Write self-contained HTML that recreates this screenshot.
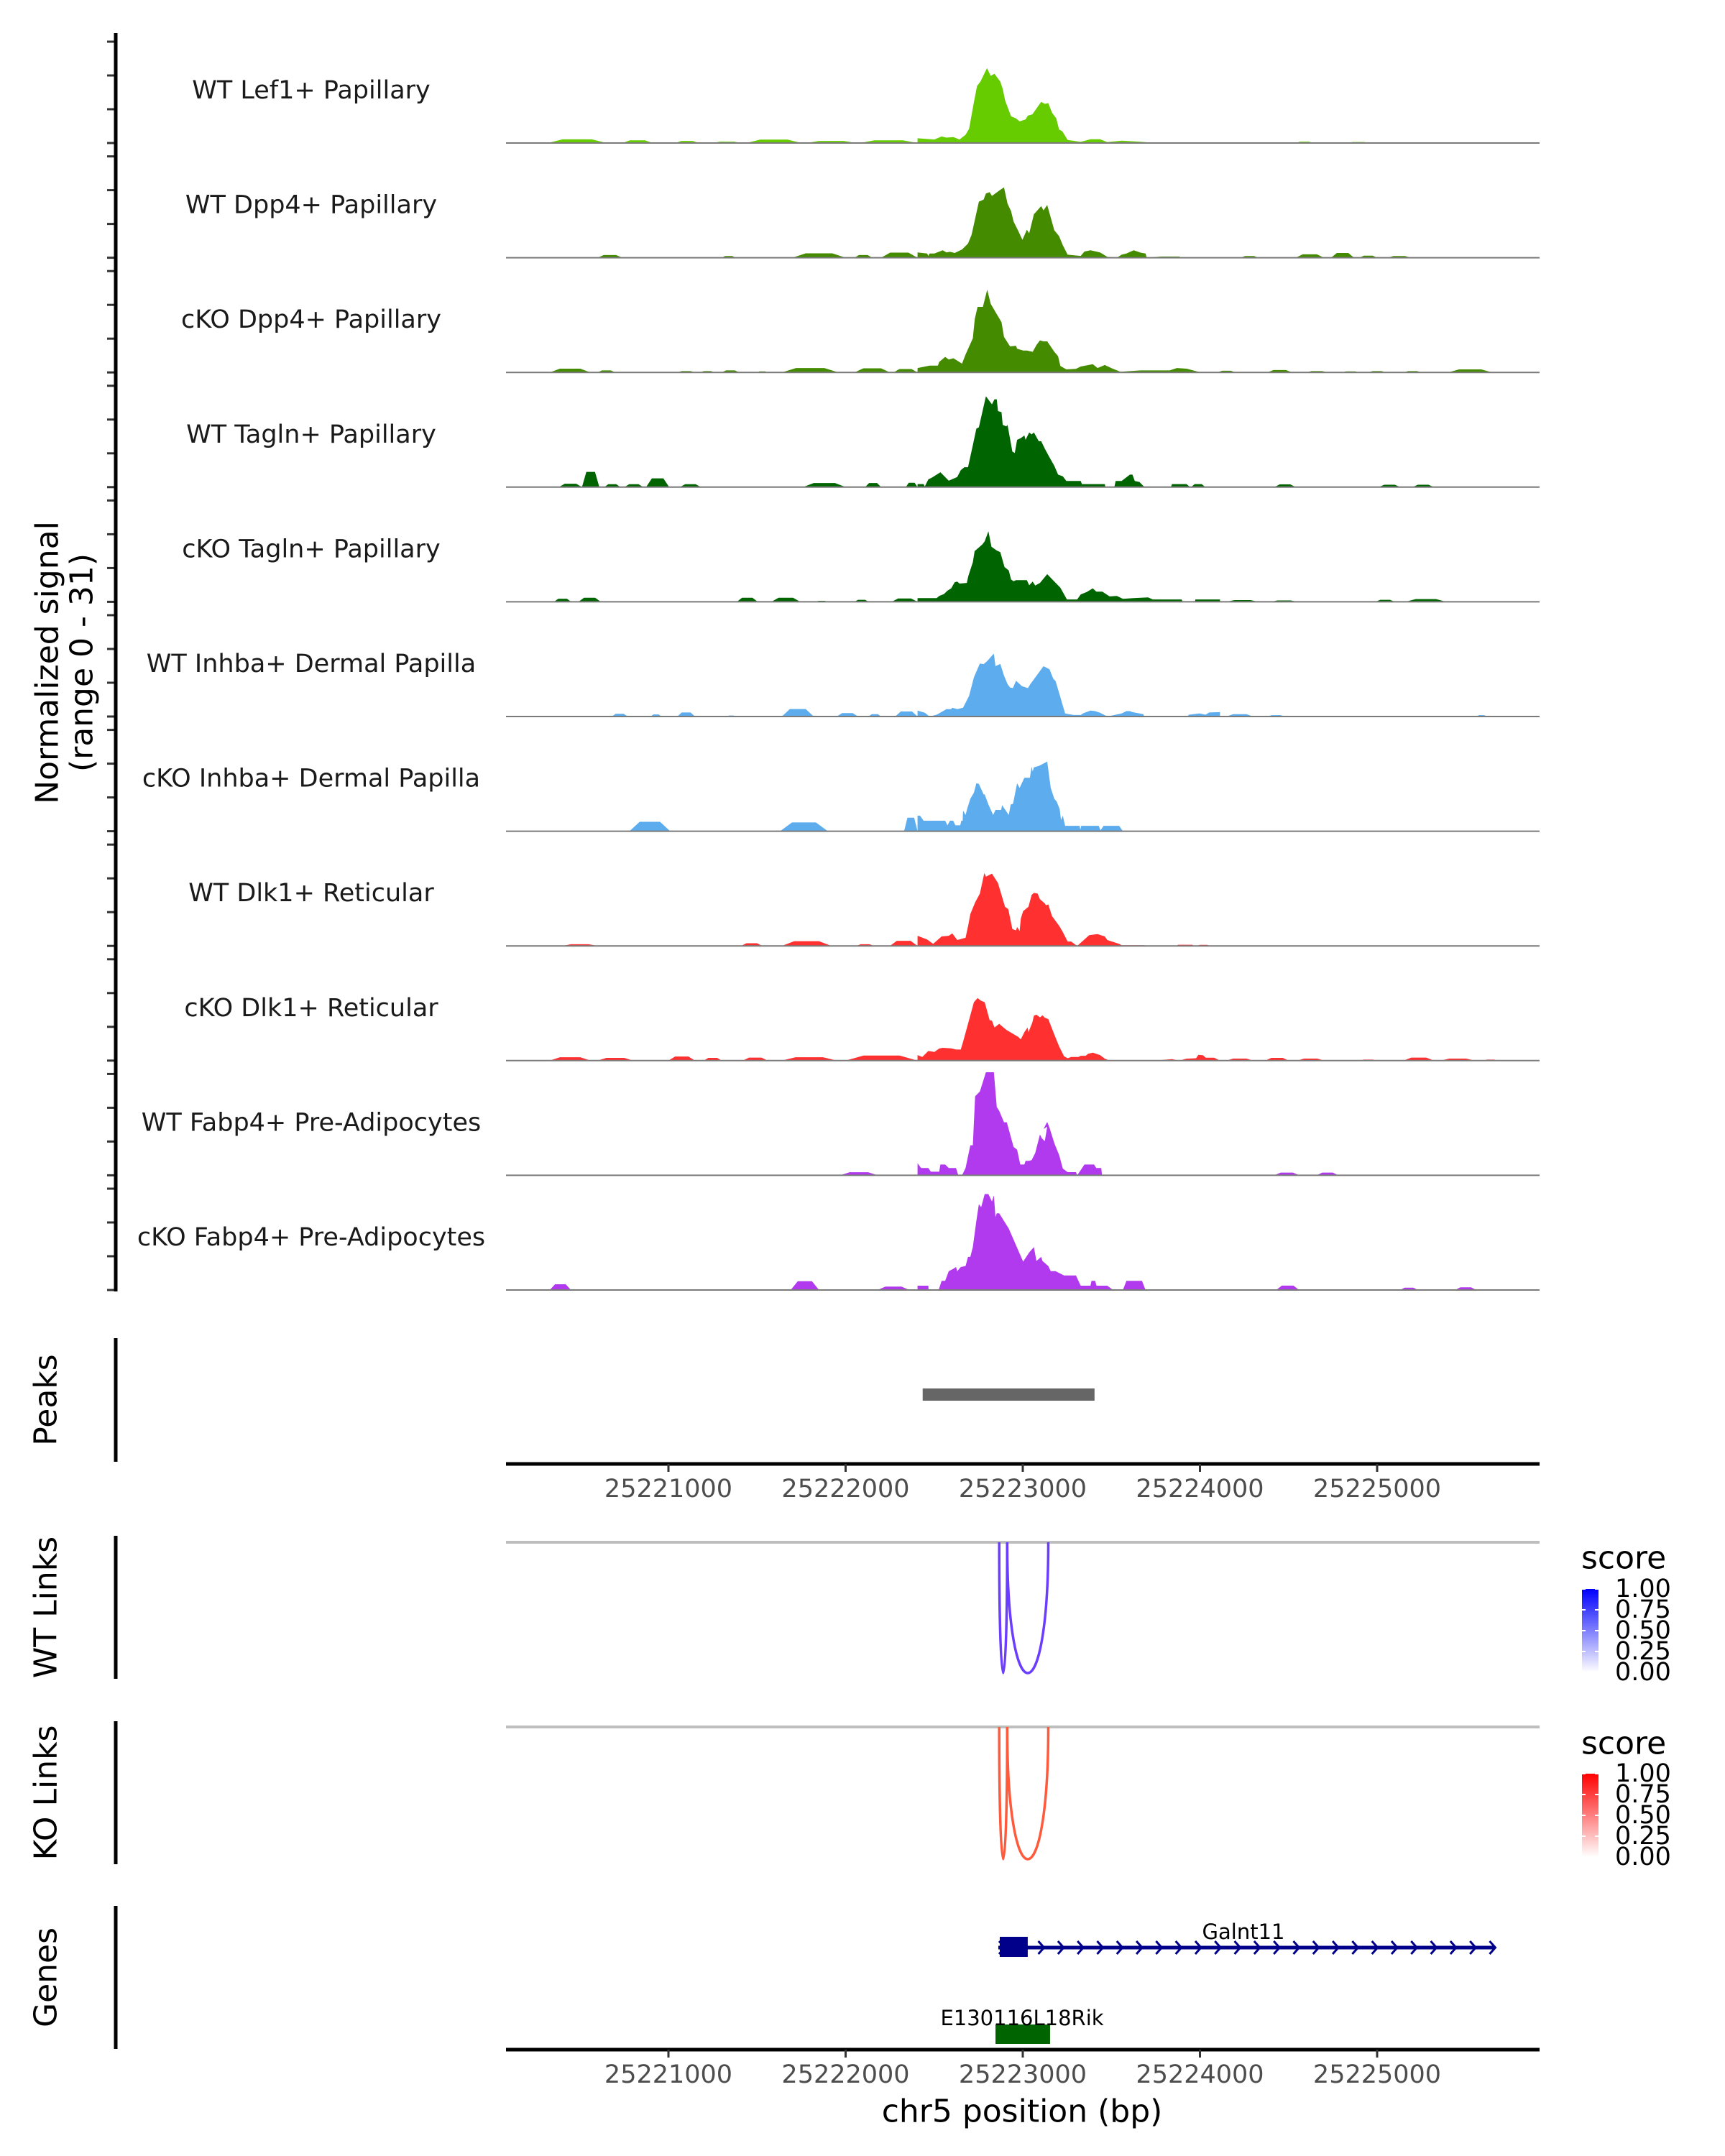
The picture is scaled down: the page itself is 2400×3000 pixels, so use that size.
<!DOCTYPE html>
<html><head><meta charset="utf-8">
<style>
html,body{margin:0;padding:0;background:#fff;}
svg{display:block;font-family:"DejaVu Sans","Liberation Sans",sans-serif;}
</style></head>
<body>
<svg id="chart" xmlns="http://www.w3.org/2000/svg" width="2400" height="3000" viewBox="0 0 2400 3000">
<g id="tracks"></g>
<g id="axes"></g>
</svg>
<script>
// ---- data (positions are bp offsets from 25220000; values in normalized signal units) ----
const trackNames = ["WT Lef1+ Papillary","WT Dpp4+ Papillary","cKO Dpp4+ Papillary","WT Tagln+ Papillary","cKO Tagln+ Papillary","WT Inhba+ Dermal Papilla","cKO Inhba+ Dermal Papilla","WT Dlk1+ Reticular","cKO Dlk1+ Reticular","WT Fabp4+ Pre-Adipocytes","cKO Fabp4+ Pre-Adipocytes"];
const trackColors = ["#66CC00","#458B00","#458B00","#006400","#006400","#5CACEE","#5CACEE","#FF3030","#FF3030","#B23AEE","#B23AEE"];

const lef1WtPos = [2406,2501,2542,2569,2609,2643,2677,2697,2724,2742,2761,2798,2819,2840,2873,2887,2901,2934,2962,2982,3016,3029,3054,3104,3124,3144,3165,3189,3205,3223,3253,3327,3382,3436,3477,3558,3639,3761];
const lef1WtVal = [1.4,1.05,1.93,1.6,1.75,1.05,2.45,4.2,12.1,16.9,18.2,22.2,19.9,20.5,18.2,16.0,12.5,7.9,7.3,6.4,7.0,8.1,8.5,12.2,11.6,11.8,9.0,7.3,4.0,3.5,0.9,0.35,1.1,1.1,0.26,0.7,0.44,0];
const lef1WtBumps = [[320,650,1.1],[740,910,0.8],[1040,1170,0.6],[1250,1410,0.4],[1440,1750,1.0],[1780,2060,0.6],[2080,2406,0.8],[4540,4640,0.4],[4830,4960,0.3],[5200,5300,0.2]];

const dpp4WtPos = [2406,2460,2467,2474,2501,2548,2569,2589,2616,2657,2691,2711,2752,2779,2792,2813,2826,2873,2894,2914,2934,2948,2975,2998,3023,3036,3063,3070,3104,3117,3138,3178,3205,3226,3253,3327,3348,3382,3436,3477,3531,3558,3585,3626,3666,3693,3700,3781,3883,3896];
const dpp4WtVal = [1.58,1.23,0.53,1.23,1.23,2.19,1.58,1.75,1.4,2.45,4.2,6.8,16.6,17.2,19.0,19.4,18.3,20.1,20.8,16.0,13.8,10.7,7.9,5.3,8.3,7.2,12.9,13.3,15.3,14.0,15.6,8.1,6.4,3.7,0.9,0.53,1.84,2.2,1.58,0.26,0,0.9,1.23,2.2,1.5,1.23,0,0.35,0.35,0];
const dpp4WtBumps = [[600,740,0.8],[1300,1380,0.5],[1700,2000,1.3],[2050,2150,0.8],[2200,2406,1.5],[4230,4330,0.5],[4540,4700,1.0],[4740,4870,1.4],[4900,5000,0.6],[5060,5190,0.5]];

const dpp4KoPos = [2406,2474,2521,2528,2562,2582,2609,2657,2677,2718,2729,2745,2775,2799,2819,2846,2880,2894,2928,2962,2968,3002,3023,3056,3077,3097,3117,3138,3178,3199,3212,3246,3300,3327,3395,3422,3463,3504,3551,3666,3829,3870,3924,4005];
const dpp4KoVal = [1.3,2.0,2.0,3.1,4.6,3.8,4.2,2.6,5.3,10.1,15.8,19.4,19.4,24.5,20.3,17.9,14.9,10.5,7.7,7.9,7.0,6.5,6.5,6.1,8.1,9.5,9.2,9.2,6.1,4.8,1.9,0.9,1.05,1.75,2.45,1.3,2.2,1.2,0.2,0.6,0.6,1.3,1.1,0];
const dpp4KoBumps = [[330,560,1.1],[600,700,0.6],[1050,1150,0.4],[1180,1260,0.4],[1300,1400,0.6],[1500,1560,0.3],[1640,1960,1.3],[2050,2250,1.2],[2270,2406,1.0],[4100,4200,0.5],[4380,4520,0.7],[4600,4720,0.4],[4800,4900,0.3],[4950,5050,0.4],[5150,5250,0.4],[5400,5650,0.9]];

const taglnWtPos = [2406,2440,2447,2467,2487,2535,2582,2630,2650,2670,2691,2718,2738,2752,2792,2826,2840,2853,2860,2880,2887,2907,2914,2941,2955,2968,2989,3009,3016,3036,3050,3063,3090,3104,3124,3151,3178,3199,3226,3246,3327,3334,3463,3466,3517,3524,3558,3605,3619,3632,3659,3687,3836,3842,3924,3944];
const taglnWtVal = [0.9,0.9,0.2,2.3,2.8,4.4,1.9,3.0,5.0,5.9,5.9,12.4,17.3,17.7,26.9,24.5,26.0,26.0,22.5,22.2,18.4,18.0,18.4,10.5,10.1,14.0,14.5,15.3,14.0,16.2,15.6,16.2,13.6,13.6,11.4,8.8,6.3,3.7,3.2,1.8,1.8,0.9,0.9,0,0,1.8,1.8,3.7,3.7,1.8,1.5,0,0,0.9,0.9,0];
const taglnWtBumps = [[382,512,1.0],[512,610,4.5],[638,728,0.85],[752,858,0.85],[874,1004,2.6],[1065,1183,0.85],[1760,2000,1.2],[2110,2200,1.2],[2340,2406,1.3],[3950,4030,0.9],[4420,4540,0.8],[5010,5130,0.7],[5200,5320,0.7]];

const taglnKoPos = [2406,2514,2528,2555,2575,2596,2616,2630,2643,2684,2693,2718,2728,2772,2785,2806,2823,2853,2873,2897,2921,2934,2948,2962,3023,3036,3056,3070,3097,3138,3165,3212,3249,3307,3327,3361,3395,3415,3449,3490,3531,3565,3625,3707,3734,3896,3903,3971,3974,4113];
const taglnKoVal = [1.1,1.1,1.75,2.3,3.3,4.0,5.8,6.0,5.4,5.6,7.7,11.7,15.0,17.0,17.9,20.9,16.3,15.2,14.7,10.3,9.3,6.6,6.1,6.4,6.4,4.9,6.0,4.8,5.6,8.2,6.7,4.2,0.7,0.7,2.2,2.9,4.0,3.0,3.0,1.6,1.75,0.9,1.1,1.3,0.7,0.7,0,0,0.7,0.7];
const taglnKoBumps = [[354,451,0.9],[492,618,1.2],[1386,1504,1.2],[1581,1744,1.2],[1830,1900,0.3],[2050,2130,0.6],[2260,2406,1.0],[4150,4330,0.5],[4400,4550,0.4],[4990,5100,0.6],[5160,5390,0.8]];

const inhbaWtPos = [2406,2447,2474,2514,2569,2596,2602,2630,2663,2697,2724,2758,2779,2799,2826,2837,2846,2873,2894,2914,2928,2944,2962,2995,3029,3043,3117,3151,3172,3185,3206,3239,3287,3327,3341,3382,3409,3436,3477,3558,3585,3605,3619,3680,3686,3930,3937,3998,4032,4052,4113];
const inhbaWtVal = [1.75,1.1,0,0.53,2.2,2.2,2.6,2.2,2.6,6.1,11.6,15.7,15.5,16.4,18.0,18.6,14.9,15.6,12.1,9.6,8.6,8.4,10.6,9.0,8.4,9.6,14.9,14.0,11.2,10.5,6.8,0.9,0.44,0.44,0.96,1.75,1.6,1.1,0,0.9,1.6,1.6,1.3,0.7,0,0,0.53,0.9,0.53,1.2,1.3];
const inhbaWtBumps = [[680,770,0.8],[900,960,0.6],[1050,1150,1.2],[1330,1380,0.3],[1640,1820,2.2],[1950,2070,1.0],[2130,2200,0.7],[2280,2406,1.5],[4150,4300,0.7],[4380,4480,0.4],[5560,5620,0.4]];

const inhbaKoPos = [2406,2420,2440,2562,2575,2589,2607,2620,2647,2653,2661,2663,2677,2686,2704,2724,2738,2752,2779,2785,2806,2833,2846,2878,2883,2921,2932,2945,2968,2982,3009,3040,3050,3056,3063,3090,3138,3158,3178,3191,3208,3216,3226,3239,3321,3325,3330,3429,3439,3456,3544,3565];
const inhbaKoVal = [4.6,4.6,3.1,3.1,1.75,3.1,3.1,1.75,1.75,3.1,3.1,6.1,4.8,6.6,9.6,11.4,14.2,14.0,10.9,10.9,7.9,4.8,6.3,6.3,7.7,4.8,7.9,8.1,14.2,12.8,15.8,15.8,19.1,17.7,18.9,19.3,20.6,12.8,9.6,8.8,6.6,3.3,4.6,1.6,1.6,0.44,1.6,1.6,0.26,1.6,1.6,0];
const inhbaKoBumps = [[780,1010,2.8],[1630,1900,2.6],[2330,2406,4.0]];

const dlk1WtPos = [2406,2460,2494,2542,2582,2602,2630,2677,2693,2704,2731,2758,2783,2792,2826,2860,2880,2900,2918,2941,2962,2968,2982,2989,3002,3032,3050,3063,3084,3097,3124,3131,3144,3165,3206,3226,3253,3273,3307,3375,3422,3463,3477,3544,3558,3687,3693,3869,3876,3957,3964];
const dlk1WtVal = [3.0,1.9,0.6,2.8,3.0,3.7,1.75,2.4,6.3,9.4,12.9,15.5,21.6,20.5,21.4,18.6,15.1,11.6,10.9,5.0,4.6,5.6,4.4,8.1,10.3,11.6,15.1,15.7,15.5,13.8,12.6,12.0,12.3,8.8,5.9,4.1,1.3,1.3,0,3.2,3.5,2.8,1.75,0.6,0.2,0.2,0,0,0.35,0.35,0];
const dlk1WtBumps = [[400,600,0.5],[1410,1530,0.8],[1640,1920,1.4],[2060,2160,0.5],[2250,2406,1.5],[3980,4060,0.3]];

const dlk1KoPos = [2406,2433,2467,2501,2528,2548,2596,2623,2650,2663,2691,2724,2745,2765,2785,2813,2826,2840,2867,2907,2975,2989,3009,3027,3032,3054,3063,3077,3097,3111,3124,3144,3178,3206,3233,3253,3273,3314,3327,3355,3368,3395,3436,3463,3490,3626,3720,3775,3842,3883,3924,3978,3991,4018,4032,4080,4113];
const dlk1KoVal = [1.64,1.07,2.85,2.57,3.57,3.78,3.64,3.28,3.28,5.56,10.9,17.3,18.5,17.7,17.3,11.98,11.8,9.8,10.9,9.1,7.0,6.3,8.4,9.8,8.4,11.3,13.3,13.6,12.8,13.4,12.7,12.3,7.7,4.1,1.28,0.71,1.07,1.07,1.43,1.43,2.0,2.35,1.64,0.57,0,0.14,0,0.14,0.43,0,0.57,0.71,1.71,1.57,0.86,0.86,0];
const dlk1KoBumps = [[330,560,1.0],[600,800,0.8],[1000,1150,1.2],[1200,1300,0.8],[1420,1560,0.9],[1640,1950,1.0],[2000,2406,1.5],[4150,4300,0.6],[4370,4500,0.8],[4550,4700,0.6],[4900,5000,0.3],[5150,5320,0.9],[5360,5550,0.6],[5600,5680,0.3]];

const fabp4WtPos = [2406,2426,2467,2481,2528,2535,2562,2582,2623,2636,2657,2677,2704,2718,2731,2758,2792,2837,2853,2867,2894,2910,2948,2968,2986,3009,3016,3036,3050,3070,3097,3107,3124,3138,3117,3138,3151,3178,3206,3226,3253,3300,3307,3321,3348,3402,3415,3443,3447];
const fabp4WtVal = [3.57,2.14,2.14,1.07,1.07,3.2,3.2,2.14,2.14,0,0,2.14,8.9,8.9,23.4,24.8,30.5,30.5,20.2,19.1,15.7,15.7,8.4,7.6,3.2,3.2,4.3,4.3,4.5,6.6,12.1,11.0,10.1,14.4,13.7,15.8,14.1,9.5,5.9,2.0,0.93,0.93,0,1.07,3.2,3.2,2.14,2.14,0];
const fabp4WtBumps = [[1970,2180,0.9],[4420,4560,0.8],[4660,4780,0.8]];

const fabp4KoPos = [2406,2467,2468,2525,2542,2562,2582,2609,2623,2630,2650,2677,2691,2704,2718,2738,2752,2765,2785,2806,2826,2837,2846,2853,2867,2921,3002,3036,3063,3077,3104,3111,3144,3158,3185,3233,3300,3327,3382,3388,3409,3416,3477,3510,3565,3585,3673,3693];
const fabp4KoVal = [1.28,1.28,0,0,2.7,2.7,5.6,6.3,6.8,5.6,6.8,7.1,9.8,9.8,12.7,20.5,25.4,24.5,28.4,28.4,26.2,28.0,21.6,22.7,22.7,18.2,8.4,11.1,12.7,8.6,9.8,8.6,7.1,5.6,5.6,4.3,4.3,1.28,1.28,2.7,2.7,1.28,1.28,0,0,2.7,2.7,0];
const fabp4KoBumps = [[330,450,1.7],[1690,1850,2.6],[2180,2360,1.0],[4430,4560,1.3],[5130,5230,0.7],[5440,5560,0.8]];

const trackPos = [lef1WtPos,dpp4WtPos,dpp4KoPos,taglnWtPos,taglnKoPos,inhbaWtPos,inhbaKoPos,dlk1WtPos,dlk1KoPos,fabp4WtPos,fabp4KoPos];
const trackVal = [lef1WtVal,dpp4WtVal,dpp4KoVal,taglnWtVal,taglnKoVal,inhbaWtVal,inhbaKoVal,dlk1WtVal,dlk1KoVal,fabp4WtVal,fabp4KoVal];
const trackBumps = [lef1WtBumps,dpp4WtBumps,dpp4KoBumps,taglnWtBumps,taglnKoBumps,inhbaWtBumps,inhbaKoBumps,dlk1WtBumps,dlk1KoBumps,fabp4WtBumps,fabp4KoBumps];

const xTicks = [25221000,25222000,25223000,25224000,25225000];
const yTickValues = [0,10,20,30];
const peakStart = [25222435];
const peakEnd = [25223405];
const wtLinkStart = [25222867,25222912];
const wtLinkEnd = [25222912,25223144];
const koLinkStart = [25222867,25222912];
const koLinkEnd = [25222912,25223144];
const legendLabels = ["1.00","0.75","0.50","0.25","0.00"];
const legendValues = [1,0.75,0.5,0.25,0];
const galntStart = [25222862], galntEnd = [25225659], galntExonStart = [25222870], galntExonEnd = [25223028];
const e130Start = [25222846], e130End = [25223154];

// ---- scales ----
const BASE = 25220000;
const x = bp => 930 + (bp - 25221000) * 0.2465;
const xo = off => x(BASE + off);
const X0 = 704, X1 = 2142;
const baseline = i => 199 + 159.6 * i;
const yv = (i, v) => baseline(i) - v * 4.7;

const NS = "http://www.w3.org/2000/svg";
function mk(tag, attrs, parent, text) {
  const e = document.createElementNS(NS, tag);
  for (const k in attrs) e.setAttribute(k, attrs[k]);
  if (text !== undefined) e.textContent = text;
  parent.appendChild(e);
  return e;
}
const tracks = document.getElementById("tracks");
const axes = document.getElementById("axes");

// ---- coverage tracks ----
trackNames.forEach((name, i) => {
  const g = mk("g", {}, tracks);
  
  
  const pos = trackPos[i], val = trackVal[i];
  let d = "M" + xo(pos[0]) + "," + baseline(i);
  for (let k = 0; k < pos.length; k++) d += " L" + xo(pos[k]).toFixed(1) + "," + yv(i, val[k]).toFixed(1);
  d += " L" + xo(pos[pos.length - 1]) + "," + baseline(i) + " Z";
  const area = mk("path", {d: d, fill: trackColors[i]}, g);
  
  
  trackBumps[i].forEach(b => {
    const s = b[0], e = b[1], h = b[2], w = (e - s) * 0.25;
    const pd = "M" + xo(s) + "," + baseline(i) + " L" + xo(s + w) + "," + yv(i, h) + " L" + xo(e - w) + "," + yv(i, h) + " L" + xo(e) + "," + baseline(i) + " Z";
    const bp = mk("path", {d: pd, fill: trackColors[i]}, g);
    
    
  });
  const bl = mk("line", {x1: X0, x2: X1, y1: baseline(i), y2: baseline(i), stroke: "#7a7a7a", "stroke-width": 2}, g);
  
  
  const lbl = mk("text", {x: 433, y: baseline(i) - 73, "font-size": 35, "text-anchor": "middle", "dominant-baseline": "central", fill: "#1a1a1a"}, g, name);
  
  
  yTickValues.forEach(tv => {
    const t = mk("line", {x1: 149, x2: 161, y1: yv(i, tv), y2: yv(i, tv), stroke: "#333", "stroke-width": 3}, axes);
    
    
  });
});

// left axis + titles
let el = mk("line", {x1: 161, x2: 161, y1: 46, y2: 1797, stroke: "#000", "stroke-width": 5}, axes);
 
el = mk("text", {x: 0, y: 0, "font-size": 44, "text-anchor": "middle", transform: "translate(66,922) rotate(-90)", "dominant-baseline": "central"}, axes, "Normalized signal");
 
el = mk("text", {x: 0, y: 0, "font-size": 44, "text-anchor": "middle", transform: "translate(114,922) rotate(-90)", "dominant-baseline": "central"}, axes, "(range 0 - 31)");
 

// section titles & axes
function sectionAxis(name, label, y1, y2) {
  let a = mk("line", {x1: 161, x2: 161, y1: y1, y2: y2, stroke: "#000", "stroke-width": 5}, axes);
   
  let t = mk("text", {x: 0, y: 0, "font-size": 44, "text-anchor": "middle", "dominant-baseline": "central", transform: "translate(64," + ((y1 + y2) / 2) + ") rotate(-90)"}, axes, label);
   
}
sectionAxis("peaks", "Peaks", 1862, 2034);
sectionAxis("wt-links", "WT Links", 2137, 2336);
sectionAxis("ko-links", "KO Links", 2395, 2594);
sectionAxis("genes", "Genes", 2652, 2851);

// peaks
peakStart.forEach((s, k) => {
  const r = mk("rect", {x: x(s), y: 1932, width: x(peakEnd[k]) - x(s), height: 17, fill: "#666666"}, axes);
   
});

function xAxis(yLine, name) {
  const g = mk("g", {}, axes);
   
  mk("line", {x1: X0, x2: X1, y1: yLine, y2: yLine, stroke: "#000", "stroke-width": 5}, g);
  xTicks.forEach(t => {
    const tk = mk("line", {x1: x(t), x2: x(t), y1: yLine, y2: yLine + 11, stroke: "#333", "stroke-width": 3}, g);
     
    const tl = mk("text", {x: x(t), y: yLine + 35, "font-size": 35, fill: "#4d4d4d", "text-anchor": "middle", "dominant-baseline": "central"}, g, String(t));
     
  });
}
xAxis(2037, "peaks-x-axis");
xAxis(2852, "genes-x-axis");
el = mk("text", {x: 1422, y: 2938, "font-size": 44, "text-anchor": "middle", "dominant-baseline": "central"}, axes, "chr5 position (bp)");
 

// links
function links(top, bottom, starts, ends, color, name) {
  let l = mk("line", {x1: X0, x2: X1, y1: top, y2: top, stroke: "#bebebe", "stroke-width": 4}, axes);
   
  const cy = top + (bottom - top) / 0.75;
  starts.forEach((s, k) => {
    const a = x(s), b = x(ends[k]);
    const p = mk("path", {d: "M" + a + "," + top + " C" + a + "," + cy + " " + b + "," + cy + " " + b + "," + top, fill: "none", stroke: color, "stroke-width": 3.5}, axes);
     
  });
}
links(2146, 2328, wtLinkStart, wtLinkEnd, "#6A3DFF", "wt-link");
links(2403, 2587, koLinkStart, koLinkEnd, "#FF5A3C", "ko-link");

// legends
const defs = mk("defs", {}, document.getElementById("chart"));
function legend(yTitle, yBarTop, yBarBot, color, id, name) {
  const gr = mk("linearGradient", {id: id, x1: 0, y1: 1, x2: 0, y2: 0}, defs);
  mk("stop", {offset: 0, "stop-color": "#ffffff"}, gr);
  mk("stop", {offset: 1, "stop-color": color}, gr);
  const g = mk("g", {}, axes);
   
  const t = mk("text", {x: 2200, y: yTitle, "font-size": 44, "dominant-baseline": "central"}, g, "score");
   
  const r = mk("rect", {x: 2201, y: yBarTop, width: 23, height: yBarBot - yBarTop, fill: "url(#" + id + ")"}, g);
   
  legendValues.forEach((v, k) => {
    const yy = yBarBot - v * (yBarBot - yBarTop);
    mk("line", {x1: 2201, x2: 2206, y1: yy, y2: yy, stroke: "#fff", "stroke-width": 2}, g);
    mk("line", {x1: 2219, x2: 2224, y1: yy, y2: yy, stroke: "#fff", "stroke-width": 2}, g);
    const lt = mk("text", {x: 2247, y: yy, "font-size": 35, "dominant-baseline": "central"}, g, legendLabels[k]);
     
  });
}
legend(2168, 2211, 2327, "#0000FF", "gradWT", "wt-links-legend");
legend(2426, 2468, 2584, "#FF0000", "gradKO", "ko-links-legend");

// genes
const gg = mk("g", {}, axes);
 
const gy = 2710;
mk("line", {x1: x(galntStart[0]), x2: x(galntEnd[0]), y1: gy, y2: gy, stroke: "#00008B", "stroke-width": 5}, gg);
for (let cx = x(galntStart[0]) + 6; cx <= x(galntEnd[0]); cx += 27.3) {
  mk("polyline", {points: (cx - 5) + "," + (gy - 9) + " " + (cx + 3) + "," + gy + " " + (cx - 5) + "," + (gy + 9), fill: "none", stroke: "#00008B", "stroke-width": 3}, gg);
}
mk("rect", {x: x(galntExonStart[0]), y: 2695, width: x(galntExonEnd[0]) - x(galntExonStart[0]), height: 28, fill: "#00008B"}, gg);
el = mk("text", {x: 1730, y: 2688, "font-size": 29, "text-anchor": "middle", "dominant-baseline": "central"}, gg, "Galnt11");
 

const eg = mk("g", {}, axes);
 
mk("rect", {x: x(e130Start[0]), y: 2817, width: x(e130End[0]) - x(e130Start[0]), height: 27, fill: "#006400"}, eg);
el = mk("text", {x: 1422, y: 2808, "font-size": 29, "text-anchor": "middle", "dominant-baseline": "central"}, eg, "E130116L18Rik");
 
</script>
</body></html>
